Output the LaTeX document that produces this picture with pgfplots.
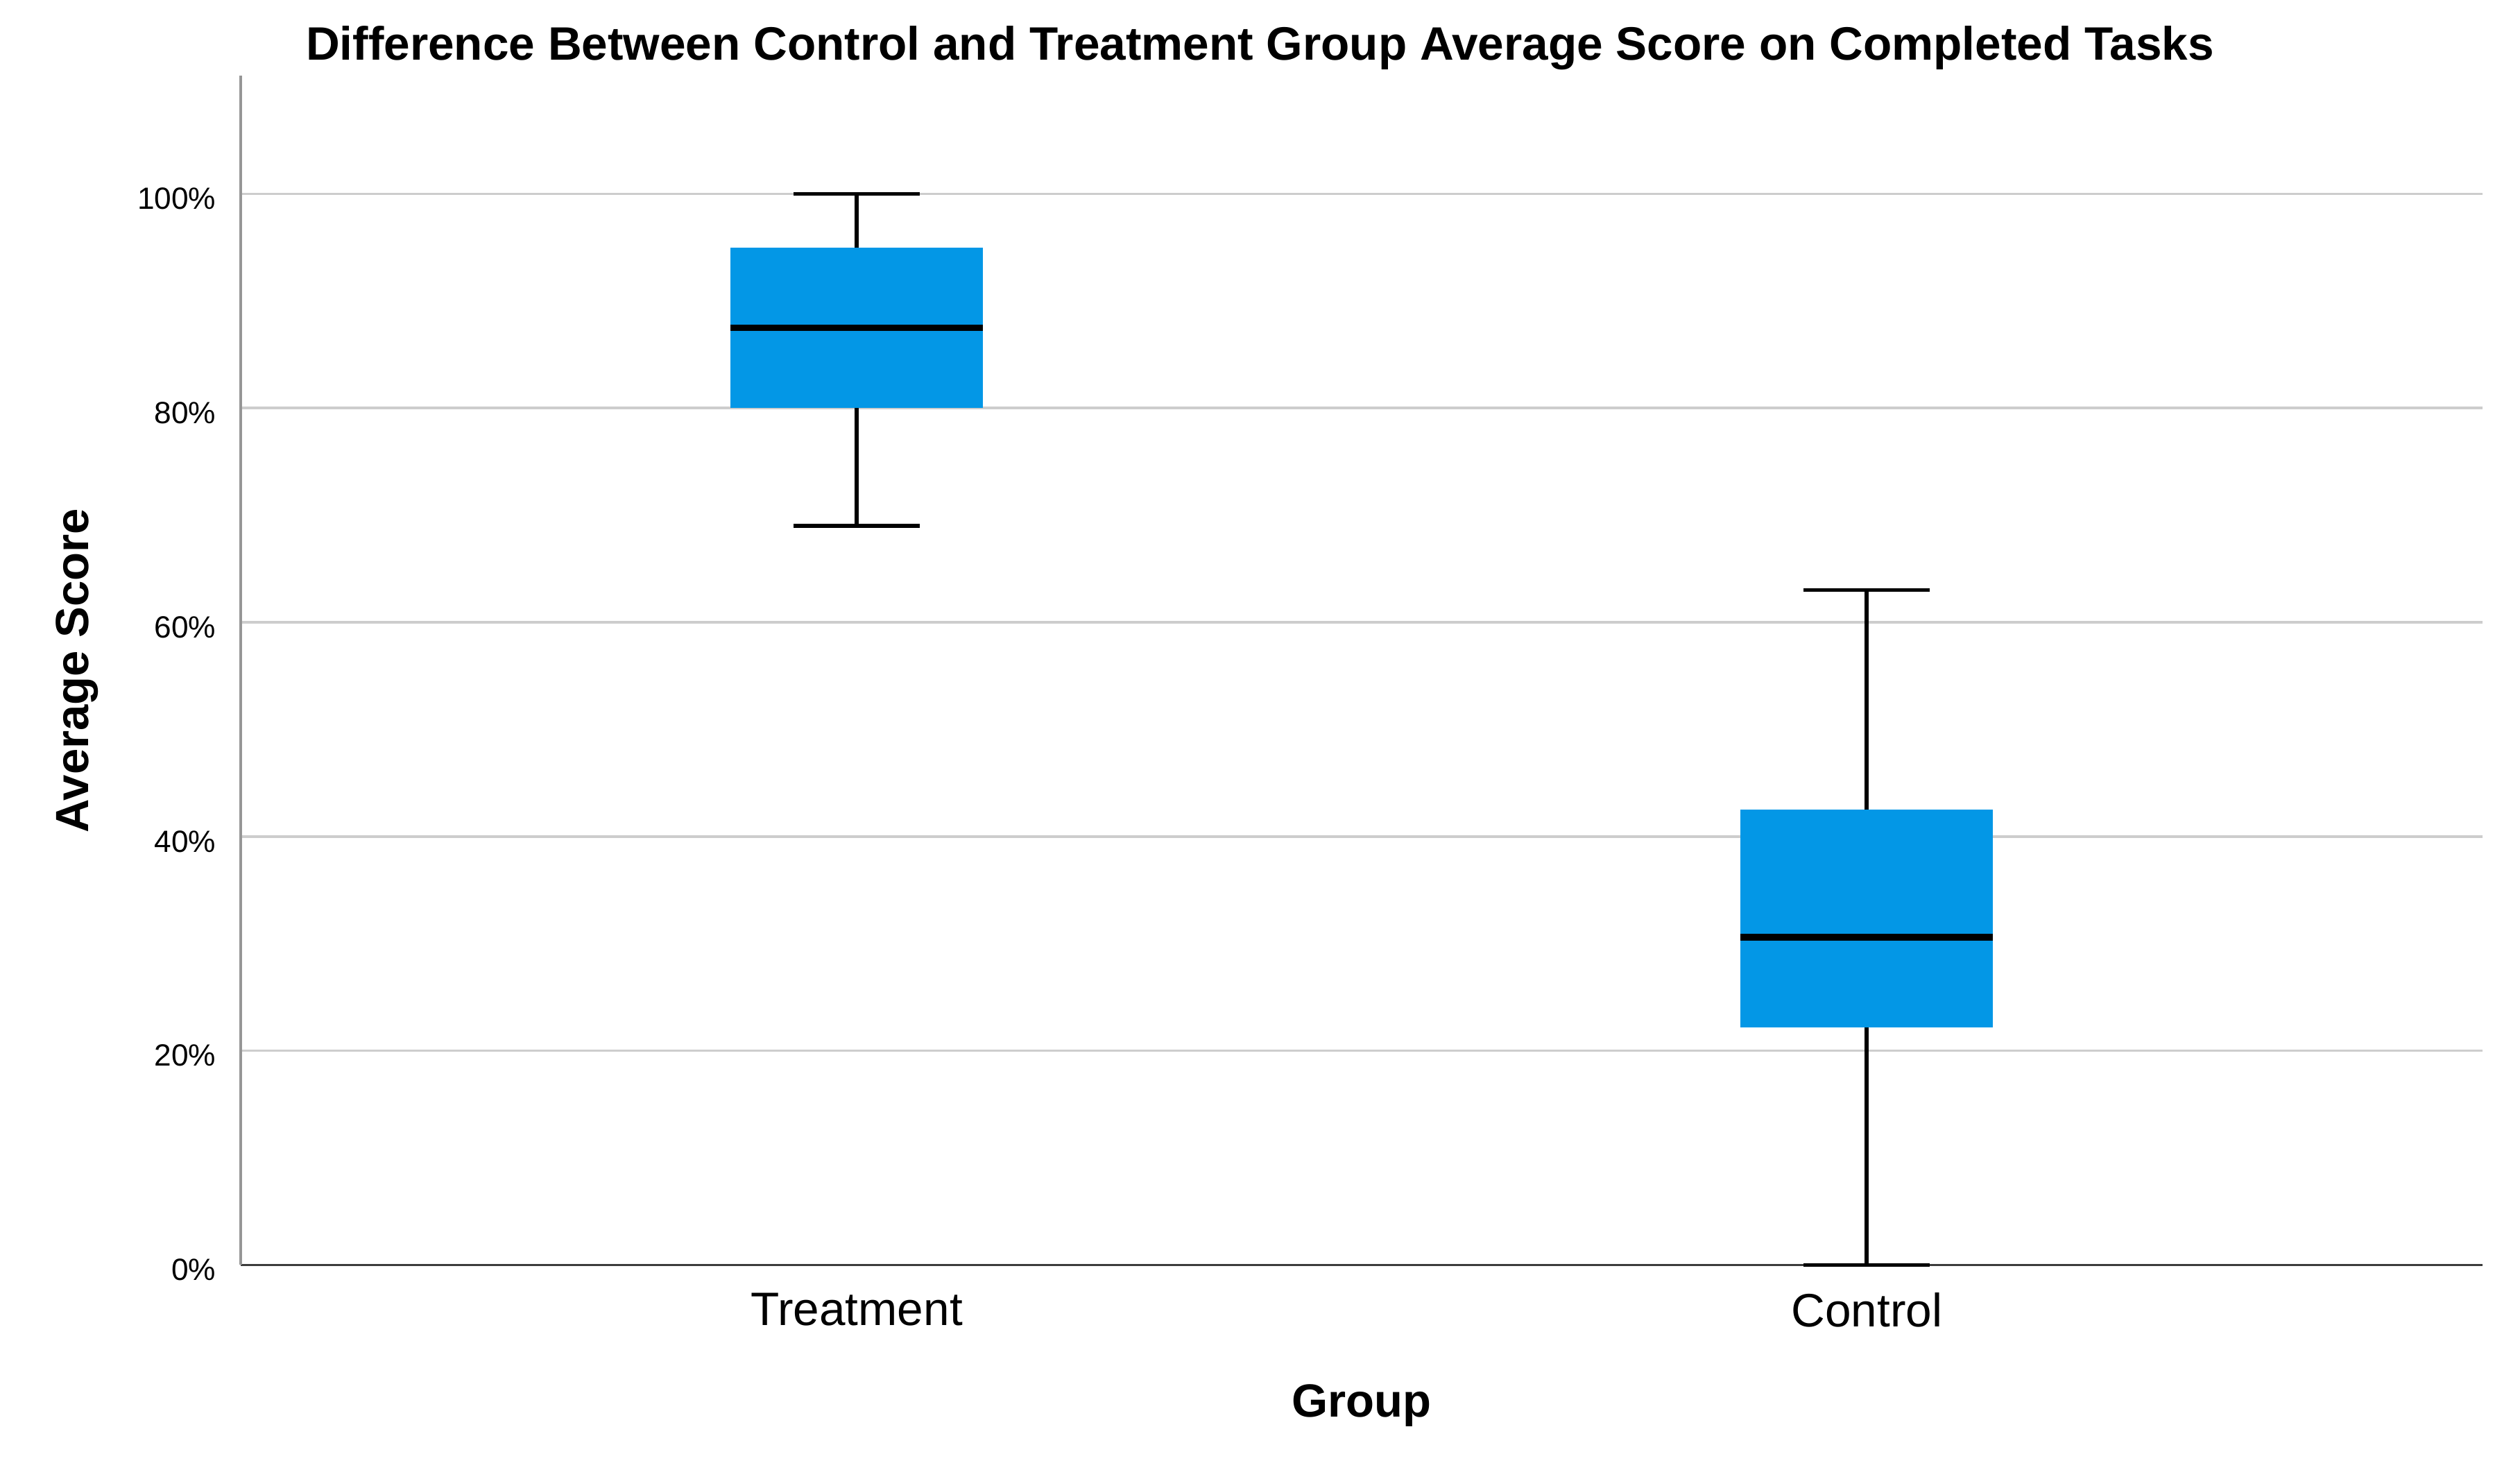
\documentclass[border=0pt]{standalone}
\usepackage{fontspec}
\setmainfont{Liberation Sans}
\usepackage{pgfplots}
\pgfplotsset{compat=1.18}
\usepgfplotslibrary{statistics}

\definecolor{boxblue}{RGB}{3,151,230}
\definecolor{gridgray}{RGB}{205,205,205}
\definecolor{yaxisgray}{RGB}{150,150,150}
\definecolor{xaxisgray}{RGB}{60,60,60}

\begin{document}
\begin{tikzpicture}
\begin{axis}[
  at={(0,0)}, anchor=south west,
  scale only axis,
  width=694pt, height=368pt,
  xmin=0.39, xmax=2.61,
  ymin=0, ymax=111,
  axis x line=bottom, axis y line=left,
  x axis line style={-, color=xaxisgray, line width=0.8pt},
  y axis line style={-, color=yaxisgray, line width=0.8pt},
  xtick style={draw=none}, ytick style={draw=none},
  xtick={1,2}, xticklabels={Treatment, Control},
  ytick={0,20,40,60,80,100},
  yticklabels={0\%,20\%,40\%,60\%,80\%,100\%},
  xticklabel style={font=\fontsize{14.5}{17}\selectfont, yshift=-3pt},
  yticklabel style={font=\fontsize{9.5}{11}\selectfont, xshift=-2pt, yshift=-1.5pt},
  ymajorgrids,
  y grid style={gridgray, line width=0.75pt},
  xlabel={Group},
  ylabel={Average Score},
  xlabel style={font=\bfseries\fontsize{14.4}{17}\selectfont, at={(axis description cs:0.5,-0.118)}, anchor=center},
  ylabel style={font=\bfseries\fontsize{14.4}{17}\selectfont, at={(axis description cs:-0.0728,0.5)}, anchor=center},
  clip=false,
  boxplot/draw direction=y,
  boxplot/box extend=0.25,
  boxplot/whisker extend=0.125,
  boxplot/every box/.style={fill=boxblue, draw=none},
  boxplot/every median/.style={black, line width=2pt},
  boxplot/every whisker/.style={black, line width=1.2pt},
]
% Treatment
\addplot[boxplot prepared={
  draw position=1,
  lower whisker=69, lower quartile=80, median=87.5,
  upper quartile=95, upper whisker=100
}, black] coordinates {};
% Control
\addplot[boxplot prepared={
  draw position=2,
  lower whisker=0, lower quartile=22.2, median=30.6,
  upper quartile=42.5, upper whisker=63
}, black] coordinates {};
\end{axis}
\node[anchor=base, font=\bfseries\fontsize{14.5}{17}\selectfont] at (315.5pt,373pt)
  {Difference Between Control and Treatment Group Average Score on Completed Tasks};
\pgfresetboundingbox
\path[use as bounding box] (-74.5pt,-60.5pt) rectangle (705.5pt,391.5pt);
\end{tikzpicture}
\end{document}
